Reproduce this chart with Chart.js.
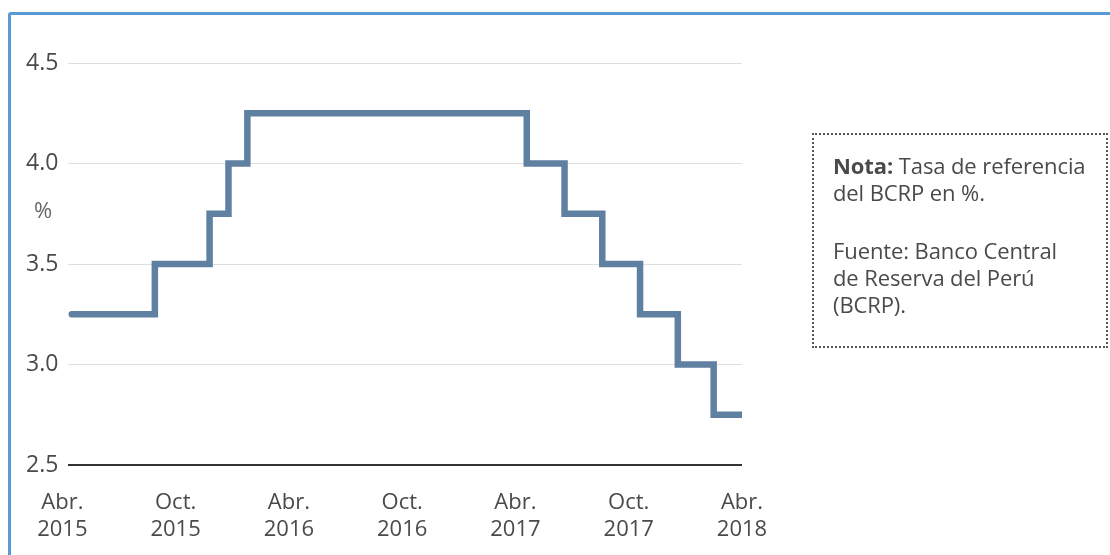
<!DOCTYPE html>
<html>
<head>
<meta charset="utf-8">
<script src="https://cdn.jsdelivr.net/npm/chart.js@4/dist/chart.umd.min.js"></script>
<style>
  html, body { margin: 0; padding: 0; background: #fff; }
  #wrap { position: relative; width: 1110px; height: 555px; overflow: hidden; }
  #marco { position: absolute; left: 8px; top: 12px; width: 1200px; height: 700px;
    border: 3px solid #5b9bd5; border-radius: 3px; box-sizing: border-box; }
  #grafico { position: absolute; left: 0; top: 0; }
  #nota { position: absolute; left: 812px; top: 133px; width: 296px; height: 215px;
    box-sizing: border-box; border: 2px dotted #555; padding: 17px 0 0 19px;
    font-family: "Open Sans", sans-serif; font-size: 22px; line-height: 27px;
    color: #4a4a4a; white-space: nowrap; letter-spacing: -0.1px; }
  #nota p { margin: 0 0 31px 0; }
</style>
</head>
<body>
<div id="wrap">
  <div id="marco"></div>
  <canvas id="grafico" width="1110" height="555"></canvas>
  <div id="nota">
    <p><b>Nota:</b> Tasa de referencia<br>del BCRP en %.</p>
    <p>Fuente: Banco Central<br>de Reserva del Perú<br>(BCRP).</p>
  </div>
</div>
<script>
"use strict";
// meses contados desde abril 2015 (0 = Abr. 2015)
var meses = [0.5, 4.9, 7.8, 8.8, 9.8, 24.6, 26.6, 28.6, 30.6, 32.6, 34.5, 36];
// tasa de referencia BCRP (%) vigente desde cada mes
var tasas = [3.25, 3.5, 3.75, 4.0, 4.25, 4.0, 3.75, 3.5, 3.25, 3.0, 2.75, 2.75];
var ticksMes = [0, 6, 12, 18, 24, 30, 36];
var etiquetasMes = [["Abr.", "2015"], ["Oct.", "2015"], ["Abr.", "2016"], ["Oct.", "2016"],
    ["Abr.", "2017"], ["Oct.", "2017"], ["Abr.", "2018"]];
var ticksTasa = [2.5, 3.0, 3.5, 4.0, 4.5];

var fuente = "'Open Sans', sans-serif";
var puntos = [];
for (var i = 0; i <= meses.length - 1; i++) {
    puntos.push({x: meses[i], y: tasas[i]});
}

// texto "%" junto al eje vertical
var unidad = {
    id: "unidad",
    afterDraw: function (chart) {
        var c = chart.ctx;
        c.save();
        c.font = "22px " + fuente;
        c.fillStyle = "#666";
        c.textAlign = "center";
        c.textBaseline = "middle";
        c.fillText("%", 43, chart.scales.y.getPixelForValue(3.76));
        c.restore();
    }
};

var ctx = document.getElementById("grafico").getContext("2d");
var chart = new Chart(ctx, {
    type: "line",
    data: {
        datasets: [{
            data: puntos,
            stepped: true,
            borderColor: "#5f80a0",
            borderWidth: 6.5,
            borderCapStyle: "round",
            borderJoinStyle: "miter",
            pointRadius: 0,
            fill: false
        }]
    },
    options: {
        responsive: false,
        animation: false,
        layout: {padding: {left: 26, top: 63, right: 368, bottom: 0}},
        plugins: {legend: {display: false}, tooltip: {enabled: false}},
        scales: {
            x: {
                type: "linear",
                min: 0.3,
                max: 36,
                grid: {display: false},
                border: {display: false},
                afterBuildTicks: function (scale) {
                    scale.ticks = ticksMes.map(function (v) { return {value: v}; });
                },
                afterFit: function (scale) { scale.height = 90; },
                ticks: {
                    autoSkip: false,
                    maxRotation: 0,
                    padding: 17,
                    color: "#4a4a4a",
                    font: {family: fuente, size: 22, lineHeight: 1.2},
                    callback: function (v) { return etiquetasMes[ticksMes.indexOf(v)]; }
                }
            },
            y: {
                min: 2.5,
                max: 4.5,
                afterBuildTicks: function (scale) {
                    scale.ticks = ticksTasa.map(function (v) { return {value: v}; });
                },
                afterFit: function (scale) { scale.width = 42; },
                grid: {
                    drawTicks: false,
                    color: function (c) { return c.tick && c.tick.value === 2.5 ? "#333" : "#dedede"; },
                    lineWidth: function (c) { return c.tick && c.tick.value === 2.5 ? 2 : 1; }
                },
                border: {display: false},
                ticks: {
                    crossAlign: "far",
                    color: "#4a4a4a",
                    font: {family: fuente, size: 23},
                    callback: function (v) { return v.toFixed(1); }
                }
            }
        }
    },
    plugins: [unidad]
});
</script>
</body>
</html>
